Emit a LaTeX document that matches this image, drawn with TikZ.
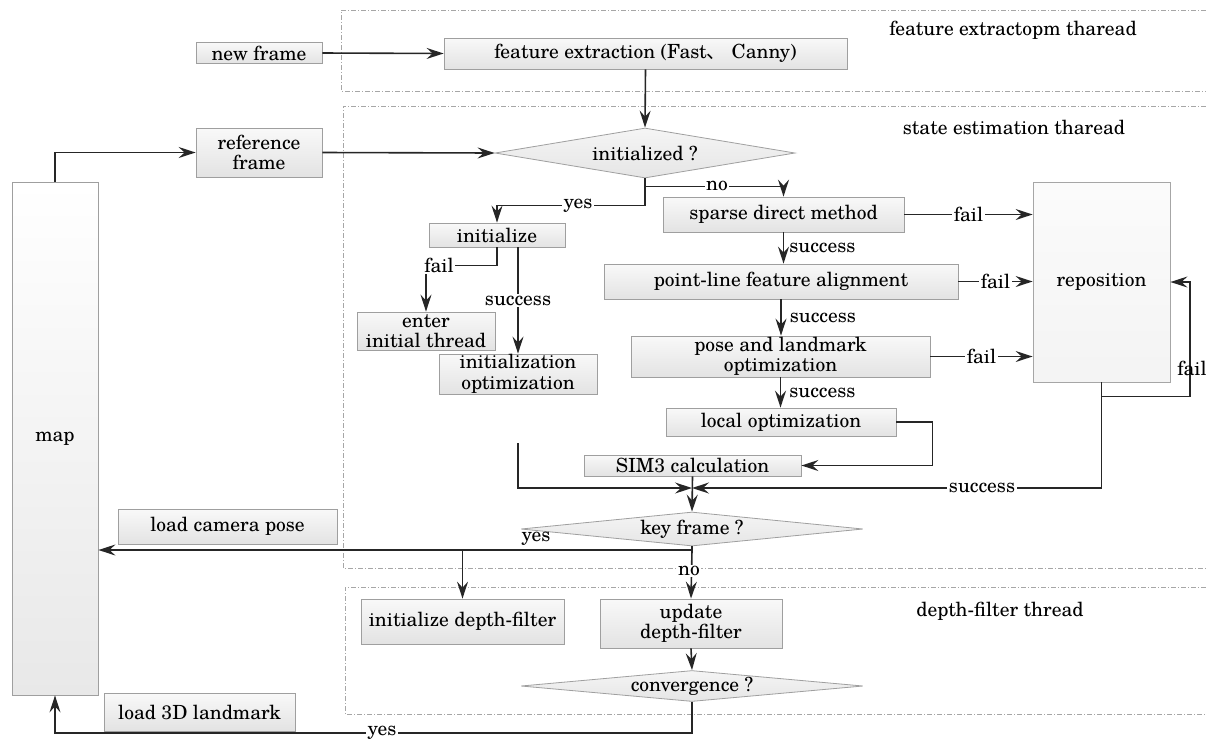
\documentclass[tikz,border=0pt]{standalone}
\usepackage{fontspec}
\setmainfont{TeX Gyre Schola}
\newfontfamily\cjk{Noto Sans CJK SC}
\usetikzlibrary{arrows.meta,calc,shapes.geometric}
\begin{document}
\begin{tikzpicture}[x=1pt,y=-1pt,
  every node/.style={font=\fontsize{19.5}{20.5}\selectfont, inner sep=0pt, text=black},
  box/.style={draw=gray!75, line width=0.8pt, top color=gray!5, bottom color=gray!22, align=center},
  dia/.style={shape=diamond, draw=gray!75, line width=0.8pt, top color=gray!8, bottom color=gray!20, inner sep=0pt},
  arr/.style={draw=black!85, line width=1.6pt, -{Stealth[length=17pt,width=11pt,inset=6pt]}},
  ln/.style={draw=black!85, line width=1.6pt},
  lab/.style={fill=white, inner sep=1.5pt},
  thread/.style={draw=gray!70, line width=0.7pt, dash pattern=on 5pt off 2pt on 1pt off 2pt}
]
\useasboundingbox (0,0) rectangle (1206,740);

% thread regions
\draw[thread] (1206,10) -| (341,91) -- (1206,91);
\draw[thread] (1206,106) -| (343,568) -- (1206,568);
\draw[thread] (1206,587) -| (345,714) -- (1206,714);
\node (thr1) at (1013,30) {feature extractopm tharead};
\node (thr2) at (1014,127) {state estimation tharead};
\node (thr3) at (1000,611) {depth-filter thread};

% nodes
\node[box, minimum width=126pt, minimum height=21pt] (newframe) at (259,53) {new frame};
\node[box, minimum width=403pt, minimum height=31pt] (featext) at (645.5,53.5) {feature extraction (Fast{\cjk 、} Canny)};
\node[box, minimum width=126pt, minimum height=49pt] (ref) at (259,152.5) {reference\\frame};
\node[draw=gray!75, line width=0.8pt, top color=white, bottom color=gray!18, minimum width=86pt, minimum height=513pt] (map) at (55,438.5) {map};
\node[dia, minimum width=300pt, minimum height=50pt] (initd) at (645,153) {\makebox[0pt]{initialized ?}};
\node[box, minimum width=136pt, minimum height=24pt] (initialize) at (497,235) {initialize};
\node[box, minimum width=138pt, minimum height=38pt] (enter) at (426,331) {enter\\initial thread};
\node[box, minimum width=158pt, minimum height=40pt] (initopt) at (518,374) {initialization\\optimization};
\node[box, minimum width=241pt, minimum height=35pt] (sparse) at (783.5,214.5) {sparse direct method};
\node[box, minimum width=354pt, minimum height=35pt] (pointline) at (781,281.5) {point-line feature alignment};
\node[box, minimum width=299pt, minimum height=41pt] (pose) at (780.5,356.5) {pose and landmark\\optimization};
\node[box, minimum width=230pt, minimum height=28pt] (localopt) at (781,422) {local optimization};
\node[draw=gray!70, line width=0.8pt, top color=gray!3, bottom color=gray!9, minimum width=137pt, minimum height=200pt] (reposition) at (1101.5,282) {reposition};
\node[box, minimum width=217pt, minimum height=21pt] (sim3) at (692.5,465.5) {SIM3 calculation};
\node[dia, minimum width=342pt, minimum height=34pt] (keyframe) at (692,529) {\makebox[0pt]{key frame ?}};
\node[box, minimum width=219pt, minimum height=35pt] (loadcam) at (227.5,526.5) {load camera pose};
\node[box, minimum width=203pt, minimum height=45pt] (initdf) at (462.5,621.5) {initialize depth-filter};
\node[box, minimum width=182pt, minimum height=49pt] (updatedf) at (691,623.5) {update\\depth-filter};
\node[dia, minimum width=342pt, minimum height=31pt] (conv) at (692,686) {\makebox[0pt]{convergence ?}};
\node[box, minimum width=191pt, minimum height=38pt] (load3d) at (199.5,712) {load 3D landmark};

% coordinates
\coordinate (lm) at (518,443);
\coordinate (jn) at (692,488);
\coordinate (ky) at (692,550);
\coordinate (cb) at (55,733);
\coordinate (rf) at (1190,396);

% connectors
\draw[arr] (newframe.east) -- (featext.west);
\draw[arr] (featext.south) -- (initd.north);
\draw[arr] (map.north) |- (ref.west);
\draw[arr] (ref.east) -- (initd.west);

\draw[arr] (initd.south) |- ($(initialize.north)+(0,-17)$) -- (initialize.north);
\node[lab] (yes1) at (578,206) {yes};
\draw[arr] (initd.south) ++(0,8) -| (sparse.north);
\node[lab] (no1) at (717,186) {no};

\draw[arr] (initialize.south) -- ++(0,18) -| (enter.north);
\node[lab] (fail0) at (439,265) {fail};
\draw[arr] (initialize.south -| initopt.north) -- (initopt.north) node[lab, midway] (succ0) {success};

\draw[arr] (sparse.east) -- (sparse.east -| reposition.west) node[lab, midway] (fail1) {fail};
\draw[arr] (pointline.east) -- (pointline.east -| reposition.west) node[lab, midway] (fail2) {fail};
\draw[arr] (pose.east) -- (pose.east -| reposition.west) node[lab, midway] (fail3) {fail};

\draw[arr] (sparse.south) -- (sparse.south |- pointline.north) node[midway, right=5pt] (succ1) {success};
\draw[arr] (pointline.south) -- (pointline.south |- pose.north) node[midway, right=8pt] (succ2) {success};
\draw[arr] (pose.south) -- (pose.south |- localopt.north) node[midway, right=8pt] (succ3) {success};

\draw[arr] (localopt.east) -- ++(36,0) |- (sim3.east);
\draw[arr] (sim3.south) -- (keyframe.north);
\draw[arr] (lm) |- (jn);
\draw[arr] (reposition.south) |- (jn);
\node[lab] (succ4) at (982,488) {success};
\draw[arr] (reposition.south) ++(0,14) -| (rf) |- (reposition.east);
\node (fail4) at (1192,368) {fail};

\draw[ln] (keyframe.south) -- (ky);
\draw[arr] (ky) -- (ky -| map.east);
\node (yes2) at (536,539) {yes};
\draw[arr] (ky -| initdf.north) -- (initdf.north);
\draw[arr] (ky) -- (updatedf.north);
\node[lab] (no2) at (689,571) {no};

\draw[arr] (updatedf.south) -- (conv.north);
\draw[arr] (conv.south) |- (cb) -- (map.south);
\node[lab] (yes3) at (382,733) {yes};
\end{tikzpicture}
\end{document}
